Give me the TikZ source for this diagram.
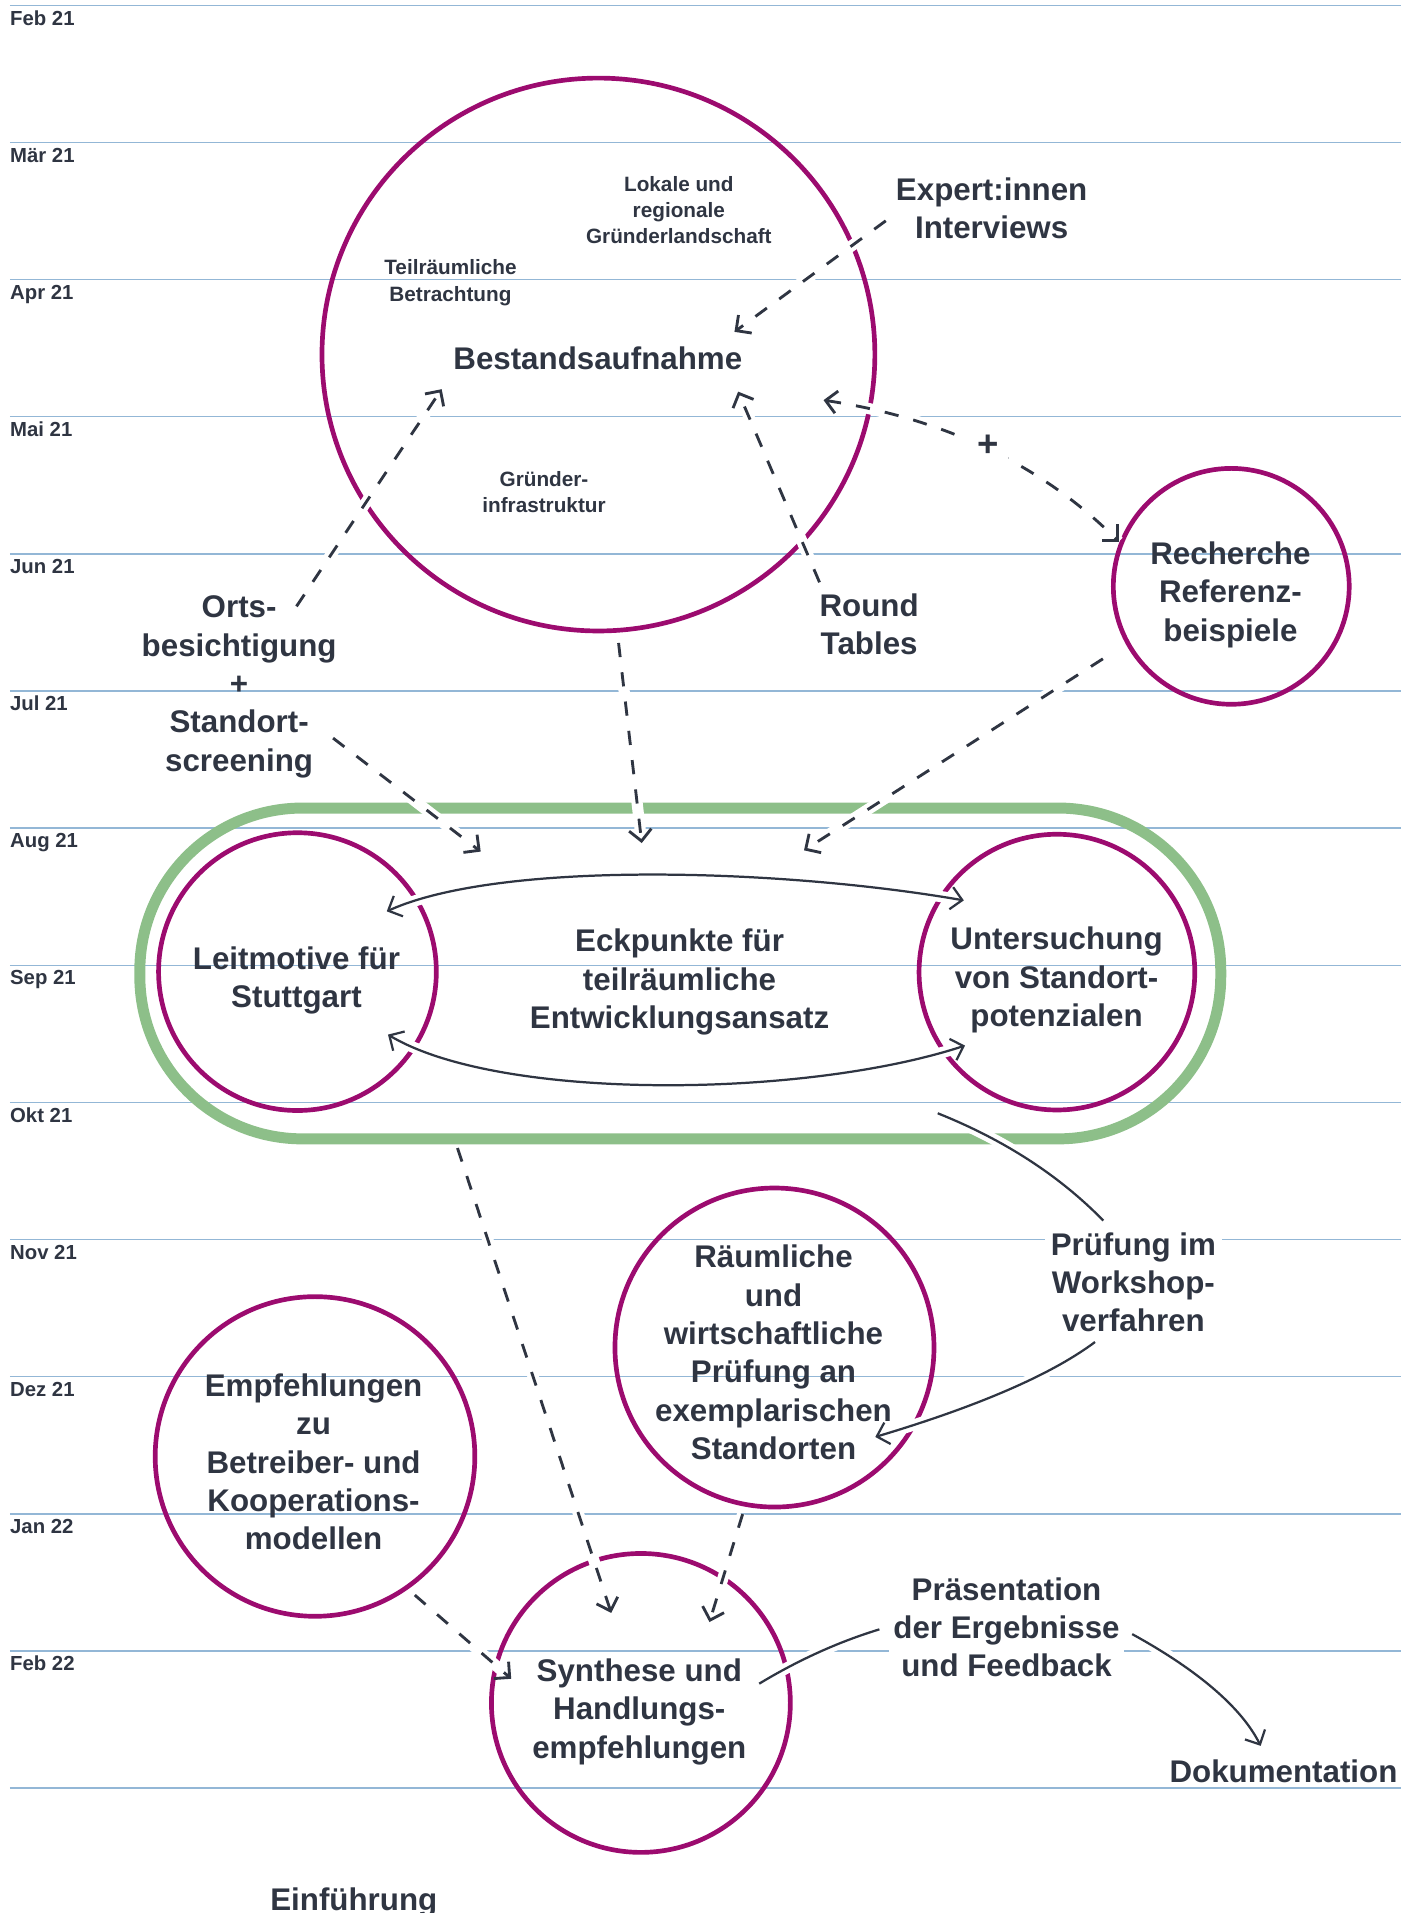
\documentclass[tikz,border=0pt]{standalone}
\usepackage{fontspec}
\setmainfont{Liberation Sans}
\usetikzlibrary{arrows.meta}
\definecolor{ink}{HTML}{2F3542}
\definecolor{plum}{HTML}{9C0B6F}
\definecolor{leaf}{HTML}{8DBF89}
\definecolor{rule}{HTML}{93B7D6}

\begin{document}
\begin{tikzpicture}[x=0.6pt, y=-0.6pt,
  >={Straight Barb[length=5.5pt,width=11pt]},
  big/.style={font=\fontsize{15.4}{18.85}\selectfont\bfseries, text=ink, align=center, inner sep=0pt},
  small/.style={font=\fontsize{10.2}{12.9}\selectfont\bfseries, text=ink, align=center, inner sep=0pt},
  month/.style={font=\fontsize{10}{12}\selectfont\bfseries, text=ink, anchor=base west, inner sep=0pt},
  ring/.style={circle, draw=plum, line width=2.3pt, inner sep=0pt},
  halo/.style={preaction={draw=white, line width=5.5pt, solid, arrows=-}},
  dashlink/.style={draw=ink, line width=1.4pt, dash pattern=on 7pt off 7.5pt, halo},
  solidlink/.style={draw=ink, line width=1.1pt, halo},
  boxed/.style={fill=white, inner sep=3pt}
]
\useasboundingbox (0,0) rectangle (1163,1568);

% month grid
\foreach \m [count=\k from 0] in {Feb 21, Mär 21, Apr 21, Mai 21, Jun 21, Jul 21, Aug 21, Sep 21, Okt 21, Nov 21, Dez 21, Jan 22, Feb 22} {
  \draw[rule, line width=0.7pt] (8,{4.4+112.4*\k}) -- (1148,{4.4+112.4*\k});
  \node[month] (m\k) at (8,{20.5+112.4*\k}) {\m};
}
\draw[rule, line width=0.7pt] (8,{4.4+112.4*13}) -- (1148,{4.4+112.4*13});

% workshop band
\node[draw=leaf, line width=5.4pt, rounded corners=80pt, minimum width=531.6pt, minimum height=162.7pt, inner sep=0pt] (band) at (557.6,797.9) {};

% circles
\node[ring, minimum size=271.9pt] (bestand) at (490.5,290.6) {};
\node[ring, minimum size=116pt] (recherche) at (1009.2,480.6) {};
\node[ring, minimum size=136.6pt] (leit) at (243.8,796.4) {};
\node[ring, minimum size=135.6pt] (unters) at (866.3,796.8) {};
\node[ring, minimum size=156.9pt] (raum) at (634.8,1104.5) {};
\node[ring, minimum size=157.2pt] (empf) at (258.2,1193.8) {};
\node[ring, minimum size=147pt] (synth) at (525.3,1395.8) {};

% connector end points
\coordinate (expA) at (726,181);   \coordinate (expB) at (602,272);
\coordinate (ortA) at (243,497);   \coordinate (ortB) at (362,319);
\coordinate (rtA) at (671.7,477.3); \coordinate (rtB) at (605,321);
\coordinate (plA) at (675,328);    \coordinate (plB) at (917,444);
\coordinate (bsA) at (507,527);    \coordinate (bsB) at (526,691);
\coordinate (reA) at (904,540);    \coordinate (reB) at (659,697);
\coordinate (stA) at (273,605);    \coordinate (stB) at (394,698);
\coordinate (upA) at (317,747);    \coordinate (upB) at (790,738);
\coordinate (loA) at (318,848);    \coordinate (loB) at (791,857);
\coordinate (baA) at (375,941);    \coordinate (baB) at (501,1322);
\coordinate (wsA) at (768.6,912.5); \coordinate (wsB) at (904.3,1000.4);
\coordinate (wsC) at (897.5,1100); \coordinate (wsD) at (717.4,1177.8);
\coordinate (raA) at (608.7,1241); \coordinate (raB) at (581.5,1329.5);
\coordinate (emA) at (340,1307.4); \coordinate (emB) at (419,1376);
\coordinate (prA) at (622.3,1380); \coordinate (prB) at (720.8,1335.5);
\coordinate (doA) at (928,1339.4); \coordinate (doB) at (1033.3,1431);

% connectors
\draw[dashlink, ->] (expA) -- (expB);
\draw[dashlink, ->] (ortA) -- (ortB);
\draw[dashlink, ->] (rtA) -- (rtB);
\draw[dashlink, <->] (plA) .. controls (774,343) and (854,381) .. (plB);
\draw[dashlink, ->] (bsA) -- (bsB);
\draw[dashlink, ->] (reA) -- (reB);
\draw[dashlink, ->] (stA) -- (stB);
\draw[solidlink, <->] (upA) .. controls (410,705) and (640,712) .. (upB);
\draw[solidlink, <->] (loA) .. controls (410,903) and (660,900) .. (loB);
\draw[dashlink, ->] (baA) -- (baB);
\draw[solidlink] (wsA) .. controls (822.9,934.2) and (868.1,963.4) .. (wsB);
\draw[solidlink, ->] (wsC) .. controls (861.8,1126.7) and (801.8,1152.6) .. (wsD);
\draw[dashlink, ->] (raA) -- (raB);
\draw[dashlink, ->] (emA) -- (emB);
\draw[solidlink] (prA) .. controls (654.8,1360.4) and (687.6,1345.6) .. (prB);
\draw[solidlink, ->] (doA) .. controls (982.7,1369.5) and (1017.8,1400) .. (doB);

% texts
\node[big] (bestandT) at (490,294) {Bestandsaufnahme};
\node[small] (lokal) at (556.4,172) {Lokale und\\regionale\\Gründerlandschaft};
\node[small] (teil) at (369.2,231.8) {Teilräumliche\\Betrachtung};
\node[small] (infra) at (445.9,403.5) {Gründer-\\infrastruktur};
\node[big] (expert) at (812.8,171) {Expert:innen\\Interviews};
\node[big] (round) at (712.4,511.5) {Round\\Tables};
\node[big, font=\fontsize{18}{20}\selectfont\bfseries, fill=white, inner sep=4.5pt] (plus) at (810,365) {+};
\node[big] (orts) at (196,563) {Orts-\\besichtigung\\+\\Standort-\\screening};
\node[big] (rechercheT) at (1008.5,487.6) {Recherche\\Referenz-\\beispiele};
\node[big] (leitT) at (243,803.7) {Leitmotive für\\Stuttgart};
\node[big] (eck) at (557,805) {Eckpunkte für\\teilräumliche\\Entwicklungsansatz};
\node[big] (untersT) at (866,803.4) {Untersuchung\\von Standort-\\potenzialen};
\node[big, boxed] (pruef) at (929,1051) {Prüfung im\\Workshop-\\verfahren};
\node[big] (raumT) at (634,1108.5) {Räumliche\\und\\wirtschaftliche\\Prüfung an\\exemplarischen\\Standorten};
\node[big] (empfT) at (257,1198.4) {Empfehlungen\\zu\\Betreiber- und\\Kooperations-\\modellen};
\node[big] (synthT) at (524,1403) {Synthese und\\Handlungs-\\empfehlungen};
\node[big, boxed, inner sep=2pt] (praes) at (825,1333.7) {Präsentation\\der Ergebnisse\\und Feedback};
\node[big] (doku) at (1052,1452) {Dokumentation};
\node[big, anchor=base] (intro) at (290,1566) {Einführung};
\end{tikzpicture}
\end{document}
